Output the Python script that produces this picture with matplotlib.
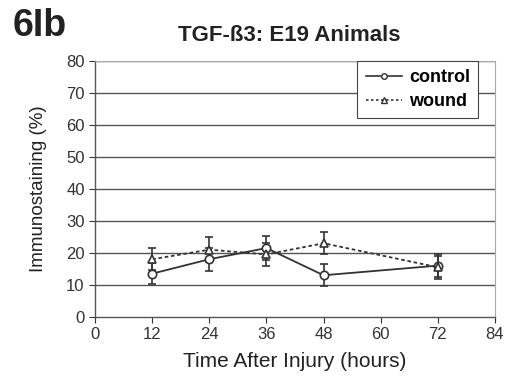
import numpy as np
import matplotlib.pyplot as plt
from matplotlib.lines import Line2D

plt.rcParams['font.family'] = ['Liberation Sans', 'DejaVu Sans']

# Data
hours = np.array([12, 24, 36, 48, 72])
control = np.array([13.5, 18.0, 21.5, 13.0, 16.0])
control_err = np.array([3.3, 3.6, 3.8, 3.4, 3.6])
wound = np.array([18.0, 21.0, 19.5, 23.0, 15.5])
wound_err = np.array([3.5, 4.0, 3.5, 3.4, 3.6])

fig = plt.figure(figsize=(5.06, 3.85), dpi=100)
ax = fig.add_axes([0.188, 0.177, 0.79, 0.665])

# horizontal grid
for g in range(10, 81, 10):
    ax.axhline(g, color='#555555', lw=1.0, zorder=0)

ax.errorbar(hours, control, yerr=control_err, color='#333333', lw=1.3,
            marker='o', ms=6, mfc='white', mec='#333333', mew=1.2,
            capsize=3, elinewidth=1.2, zorder=3)
ax.errorbar(hours, wound, yerr=wound_err, color='#333333', lw=1.3, ls=(0, (2, 1.5)),
            marker='^', ms=6, mfc='white', mec='#333333', mew=1.2,
            capsize=3, elinewidth=1.2, zorder=3)

ax.set_xlim(0, 84)
ax.set_ylim(0, 80)
ax.set_xticks(np.arange(0, 85, 12))
ax.set_yticks(np.arange(0, 81, 10))
ax.tick_params(labelsize=12, colors='#333333', length=4, direction='out')

for s in ['top', 'right']:
    ax.spines[s].set_color('#aaaaaa')
    ax.spines[s].set_linewidth(0.8)
for s in ['left', 'bottom']:
    ax.spines[s].set_color('#555555')
    ax.spines[s].set_linewidth(1.0)

ax.set_xlabel('Time After Injury (hours)', fontsize=15, color='#222222', labelpad=7)
ax.set_ylabel('Immunostaining (%)', fontsize=13.5, color='#222222', labelpad=14)

handles = [
    Line2D([], [], color='#333333', lw=1.2, marker='o', ms=4, mfc='white', mec='#333333'),
    Line2D([], [], color='#333333', lw=1.2, ls=(0, (1.5, 1.5)), marker='^', ms=4,
           mfc='white', mec='#333333'),
]
leg = ax.legend(handles, ['control', 'wound'], loc='upper right',
                bbox_to_anchor=(0.958, 1.0), prop={'weight': 'bold', 'size': 13},
                frameon=True, fancybox=False, framealpha=1, edgecolor='#444444',
                handlelength=2.0, borderaxespad=0.0, handletextpad=0.4,
                labelspacing=0.4, borderpad=0.45)
leg.get_frame().set_linewidth(0.8)

fig.text(0.571, 0.908, 'TGF-ß3: E19 Animals', ha='center', va='center',
         fontsize=16, fontweight='bold', color='#222222')
fig.text(0.024, 0.932, '6Ib', ha='left', va='center',
         fontsize=27, fontweight='bold', color='#222222')

fig.savefig('out.png', dpi=100)
